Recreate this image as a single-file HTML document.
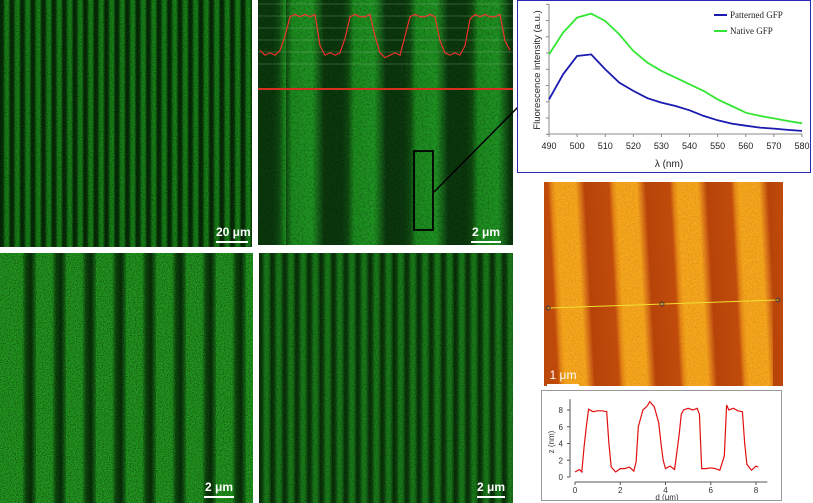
<!DOCTYPE html>
<html><head><meta charset="utf-8"><style>
body{margin:0;width:813px;height:503px;background:#fff;position:relative;overflow:hidden;font-family:"Liberation Sans",sans-serif}
.p{position:absolute;overflow:hidden}
.sb{position:absolute;color:#fff;font-weight:bold;font-size:12px;text-align:center;white-space:nowrap}
.sb i{display:block;height:2px;background:#fff;margin-top:2px}
svg.n{position:absolute;left:0;top:0}
</style></head><body>

<div class="p" style="left:0;top:0;width:252px;height:247px;background:repeating-linear-gradient(90deg,#052605 0px,#083208 3px,#167a16 5px,#1a861a 8px,#083208 10.5px)">
<svg class="n" width="252" height="247"><filter id="g1"><feTurbulence type="fractalNoise" baseFrequency="0.8" numOctaves="2" seed="3"/><feColorMatrix type="matrix" values="0 0 0 0 0  0 0 0 0 0  0 0 0 0 0  0 0 0 -2.2 1.3"/></filter><rect width="252" height="247" filter="url(#g1)" opacity="0.45"/></svg>
<div class="sb" style="left:216px;top:225px;width:32px">20 μm<i></i></div></div>

<div class="p" style="left:258px;top:0;width:255px;height:245px;background:repeating-linear-gradient(90deg,#0f4a10 0px,#1c8a1e 6px,#1f9322 26px,#17661a 32px,#0b380d 38px,#0b380d 56px,#0f4a10 62px);background-position:28px 0">
<svg class="n" width="255" height="245"><filter id="g2"><feTurbulence type="fractalNoise" baseFrequency="0.5" numOctaves="2" seed="5"/><feColorMatrix type="matrix" values="0 0 0 0 0  0 0 0 0 0  0 0 0 0 0  0 0 0 -2 1.2"/></filter><rect width="255" height="245" filter="url(#g2)" opacity="0.3"/></svg>
<svg id="tro" width="255" height="245" style="position:absolute;left:0;top:0"></svg>
<div class="sb" style="left:213px;top:225px;width:30px">2 μm<i></i></div></div>

<svg id="conn" width="813" height="503" style="position:absolute;left:0;top:0;pointer-events:none"><line x1="434" y1="192" x2="520" y2="105" stroke="#000" stroke-width="1.5"/></svg>

<div class="p" style="left:517px;top:0;width:294px;height:173px;border:1px solid #2a2ab8;box-sizing:border-box;background:#fff">
<svg id="spec" width="294" height="173" style="position:absolute;left:-1px;top:-1px"></svg></div>

<div class="p" style="left:0;top:253px;width:253px;height:250px;background:repeating-linear-gradient(90deg,#22961f 0px,#22961f 16px,#0e4a0e 20px,#082f08 25px,#1a7a1a 30px);background-position:6px 0">
<svg class="n" width="253" height="250"><filter id="g3"><feTurbulence type="fractalNoise" baseFrequency="0.85" numOctaves="2" seed="7"/><feColorMatrix type="matrix" values="0 0 0 0 0  0 0 0 0 0  0 0 0 0 0  0 0 0 -2.4 1.4"/></filter><rect width="253" height="250" filter="url(#g3)" opacity="0.5"/></svg>
<div class="sb" style="left:204px;top:227px;width:30px">2 μm<i></i></div></div>

<div class="p" style="left:259px;top:253px;width:254px;height:250px;background:repeating-linear-gradient(90deg,#082e08 0px,#0c3e0c 3px,#1a7c1a 6px,#1a7c1a 9px,#0c3e0c 12.2px)">
<svg class="n" width="254" height="250"><filter id="g4"><feTurbulence type="fractalNoise" baseFrequency="0.8" numOctaves="2" seed="9"/><feColorMatrix type="matrix" values="0 0 0 0 0  0 0 0 0 0  0 0 0 0 0  0 0 0 -2.2 1.3"/></filter><rect width="254" height="250" filter="url(#g4)" opacity="0.4"/></svg>
<div class="sb" style="left:218px;top:227px;width:28px">2 μm<i></i></div></div>

<div class="p" style="left:544px;top:182px;width:239px;height:204px;background:repeating-linear-gradient(87deg,#b8420a 0px,#c24a0c 24px,#e88a18 28px,#f6a81e 32px,#f6a81e 52px,#d8701a 57px,#b8420a 61px);background-position:-10px 0">
<svg class="n" width="239" height="204"><filter id="g5"><feTurbulence type="fractalNoise" baseFrequency="0.7" numOctaves="2" seed="11"/><feColorMatrix type="matrix" values="0 0 0 0 0.4  0 0 0 0 0.1  0 0 0 0 0  0 0 0 -2 1.2"/></filter><rect width="239" height="204" filter="url(#g5)" opacity="0.35"/></svg>
<svg width="239" height="204" style="position:absolute;left:0;top:0"><line x1="4" y1="126" x2="234" y2="118" stroke="#f0e030" stroke-width="1"/><circle cx="4" cy="126" r="2" fill="none" stroke="#444"/><circle cx="118" cy="122" r="2" fill="none" stroke="#444"/><circle cx="234" cy="118" r="2" fill="none" stroke="#444"/></svg>
<div class="sb" style="left:3px;top:186px;width:32px;font-weight:normal">1 μm<i></i></div></div>

<div class="p" style="left:541px;top:390px;width:241px;height:111px;border:1px solid #999;box-sizing:border-box;background:#fff">
<svg id="prof" width="241" height="111" style="position:absolute;left:-1px;top:-1px"></svg></div>

<script>
// ---- spectrum data ----
const wavelengths=[490,495,500,505,510,515,520,525,530,535,540,545,550,555,560,565,570,575,580];
const nativeGFP=[4.92,6.26,7.18,7.43,6.97,6.15,5.13,4.41,3.9,3.49,3.08,2.67,2.15,1.74,1.33,1.13,0.98,0.82,0.68];
const patternedGFP=[2.15,3.69,4.82,4.92,4.0,3.18,2.67,2.22,1.95,1.74,1.48,1.13,0.86,0.66,0.53,0.41,0.35,0.27,0.21];
const specTicks=[490,500,510,520,530,540,550,560,570,580];
// ---- AFM profile data ----
const profD=[0,0.2,0.3,0.4,0.5,0.6,0.8,1.0,1.2,1.4,1.5,1.6,1.8,2.0,2.2,2.4,2.6,2.7,2.8,3.0,3.2,3.3,3.5,3.7,3.8,3.9,4.0,4.2,4.4,4.6,4.7,4.8,5.0,5.2,5.4,5.5,5.6,5.8,6.0,6.2,6.4,6.6,6.7,6.8,7.0,7.2,7.4,7.5,7.6,7.8,8.0,8.1];
const profZ=[0.6,0.9,0.6,3.5,6,8.1,7.8,7.9,7.9,7.8,4,1.2,0.6,1,1,1.2,0.7,1.8,6,8,8.5,9,8.4,6.5,4,2,1,1.3,0.9,5,7.5,8,8.2,8,8.2,7.5,1,1,1.1,1,0.8,2.5,8.6,8,8.2,7.9,7.8,4,1.5,0.8,1.3,1.2];
const profXTicks=[0,2,4,6,8];
const profYTicks=[0,2,4,6,8];
// ---- fluorescence line profile (overlay) ----
const lineX=[0,5,10,15,20,25,30,35,40,45,50,55,60,65,70,75,80,85,90,95,100,105,110,115,120,125,130,135,140,145,150,155,160,165,170,175,180,185,190,195,200,205,210,215,220,225,230,235,240,245,250];
const lineI=[0.2,0.1,0.15,0.1,0.2,0.5,0.9,0.95,0.9,0.95,0.9,0.95,0.3,0.1,0.15,0.1,0.15,0.45,0.9,0.95,0.9,0.9,0.95,0.5,0.15,0.05,0.1,0.15,0.1,0.5,0.9,0.95,0.9,0.9,0.95,0.9,0.4,0.15,0.1,0.15,0.1,0.3,0.85,0.95,0.9,0.95,0.9,0.9,0.95,0.4,0.2];
const NS="http://www.w3.org/2000/svg";
function mk(svg,tag,at,txt){const e=document.createElementNS(NS,tag);for(const k in at)e.setAttribute(k,at[k]);if(txt!==undefined)e.textContent=txt;svg.appendChild(e);return e;}

// spectrum
(function(){const s=document.getElementById('spec');
const X=w=>32+(w-490)*(253/90), Y=v=>134.3-v*16.25;
let e=mk(s,'line',{x1:32,y1:4,x2:32,y2:134,stroke:'#888'});

e=mk(s,'line',{x1:32,y1:134,x2:285,y2:134,stroke:'#888'});

for(let i=0;i<=8;i++){mk(s,'line',{x1:29,y1:Y(i),x2:32,y2:Y(i),stroke:'#888'});}
specTicks.forEach(t=>{mk(s,'line',{x1:X(t),y1:134,x2:X(t),y2:137,stroke:'#888'});
e=mk(s,'text',{x:X(t),y:149,'font-size':9,'text-anchor':'middle',fill:'#222'},t);
});
e=mk(s,'text',{x:152,y:167,'font-size':10,'text-anchor':'middle',fill:'#222'},'λ (nm)');

e=mk(s,'text',{x:0,y:0,'font-size':9.5,'text-anchor':'middle',fill:'#222',transform:'translate(23,70) rotate(-90)'},'Fluorescence intensity (a.u.)');

const path=(arr)=>arr.map((v,i)=>(i?'L':'M')+X(wavelengths[i]).toFixed(1)+' '+Y(v).toFixed(1)).join(' ');
e=mk(s,'path',{d:path(nativeGFP),fill:'none',stroke:'#33e633','stroke-width':1.8});

e=mk(s,'path',{d:path(patternedGFP),fill:'none',stroke:'#1a1ab0','stroke-width':1.8});

mk(s,'line',{x1:197,y1:15,x2:210,y2:15,stroke:'#1a1ab0','stroke-width':2});
e=mk(s,'text',{x:213,y:18,'font-size':9,'font-family':'Liberation Serif',fill:'#222'},'Patterned GFP');

mk(s,'line',{x1:197,y1:31,x2:210,y2:31,stroke:'#33e633','stroke-width':2});
e=mk(s,'text',{x:213,y:34,'font-size':9,'font-family':'Liberation Serif',fill:'#222'},'Native GFP');

})();

// AFM profile
(function(){const s=document.getElementById('prof');
const X=d=>34+d*(181/8), Y=z=>87-z*8.375;
let e=mk(s,'line',{x1:29,y1:Y(0),x2:29,y2:Y(9.3),stroke:'#555'});

e=mk(s,'line',{x1:X(0),y1:92,x2:X(8.5),y2:92,stroke:'#555'});

profYTicks.forEach(t=>{mk(s,'line',{x1:26,y1:Y(t),x2:29,y2:Y(t),stroke:'#555'});
e=mk(s,'text',{x:22,y:Y(t)+3,'font-size':8,'text-anchor':'end',fill:'#333'},t);
});
profXTicks.forEach(t=>{mk(s,'line',{x1:X(t),y1:92,x2:X(t),y2:95,stroke:'#555'});
e=mk(s,'text',{x:X(t),y:103,'font-size':8,'text-anchor':'middle',fill:'#333'},t);
});
e=mk(s,'text',{x:126,y:110,'font-size':8,'text-anchor':'middle',fill:'#333'},'d (μm)');

e=mk(s,'text',{x:0,y:0,'font-size':8,'text-anchor':'middle',fill:'#333',transform:'translate(13,52) rotate(-90)'},'z (nm)');

e=mk(s,'path',{d:profZ.map((z,i)=>(i?'L':'M')+X(profD[i]).toFixed(1)+' '+Y(z).toFixed(1)).join(' '),fill:'none',stroke:'#e01010','stroke-width':1.2});

})();

// overlay on fluorescence image
(function(){const s=document.getElementById('tro');
for(let i=0;i<6;i++){mk(s,'line',{x1:0,y1:4+i*12,x2:255,y2:4+i*12,stroke:'#9ab89a','stroke-width':0.5,opacity:0.6});}
let e=mk(s,'path',{d:lineI.map((v,i)=>(i?'L':'M')+(lineX[i]+2)+' '+(60-v*48).toFixed(1)).join(' '),fill:'none',stroke:'#ff3030','stroke-width':1.1});

e=mk(s,'line',{x1:0,y1:89,x2:255,y2:89,stroke:'#d83020','stroke-width':2});

e=mk(s,'rect',{x:156,y:151,width:19,height:79,fill:'none',stroke:'#000','stroke-width':1.8});

})();
</script>
</body></html>
